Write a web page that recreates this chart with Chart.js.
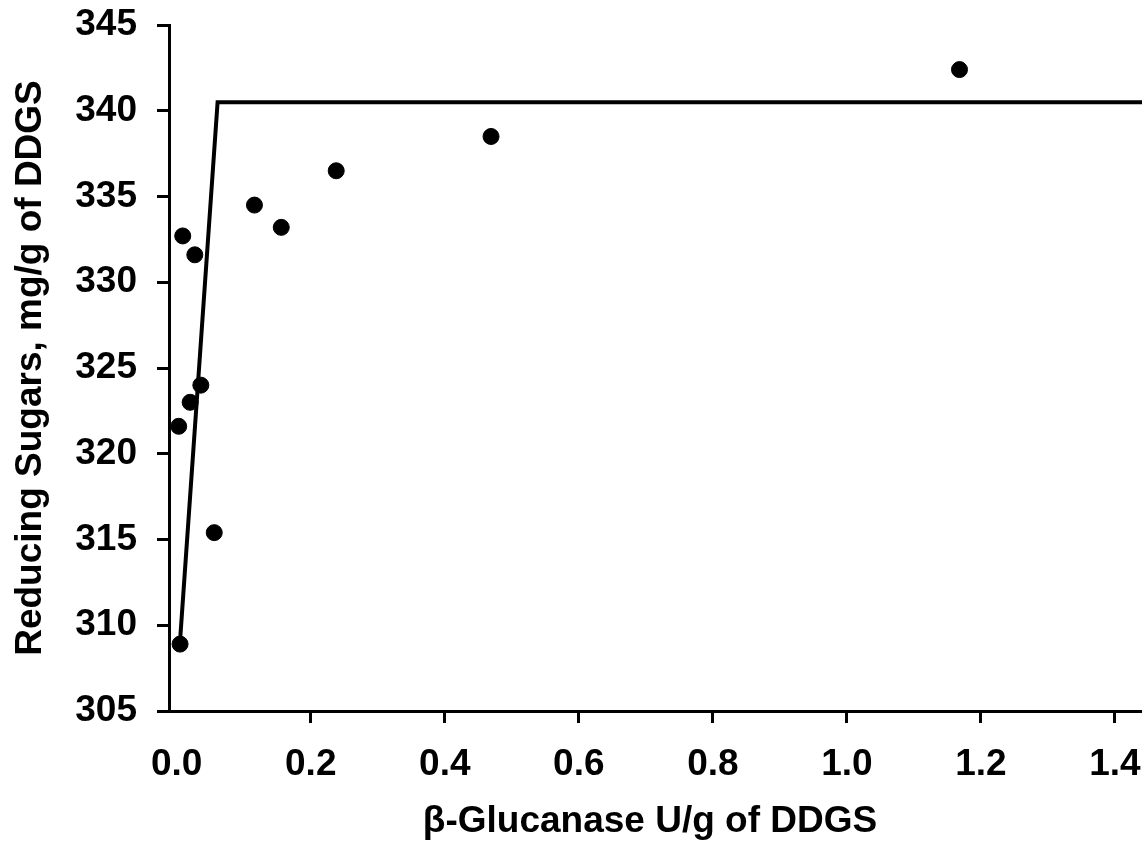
<!DOCTYPE html>
<html>
<head>
<meta charset="utf-8">
<script src="https://cdn.jsdelivr.net/npm/chart.js@4.4.1/dist/chart.umd.min.js"></script>
<style>
  html, body { margin: 0; padding: 0; background: #fff; overflow: hidden; }
  #wrap { width: 1142px; height: 856px; overflow: hidden; }
</style>
</head>
<body>
<div id="wrap"><canvas id="chart" width="1300" height="856"></canvas></div>
<script>
// measured points (enzyme dose vs reducing sugars)
const doseU = [0.003, 0.005, 0.009, 0.020, 0.027, 0.036, 0.056, 0.116, 0.156, 0.238, 0.469, 1.168];
const sugars = [321.6, 308.9, 332.7, 323.0, 331.6, 324.0, 315.4, 334.5, 333.2, 336.5, 338.5, 342.4];

// fitted broken-line model
const fitX = [0.005, 0.061, 1.6];
const fitY = [309.1, 340.5, 340.5];

const xTicks = [0, 0.2, 0.4, 0.6, 0.8, 1.0, 1.2, 1.4];
const yTicks = [305, 310, 315, 320, 325, 330, 335, 340, 345];

const xTitle = 'β-Glucanase U/g of DDGS';
const yTitle = 'Reducing Sugars, mg/g of DDGS';

const FONT = { family: '"Liberation Sans", Arial, sans-serif', size: 37, weight: 'bold' };

// x title sits left of the plot centre in the original, so draw it by hand
const xTitlePlugin = {
  id: 'xTitle',
  afterDraw(chart) {
    const c = chart.ctx;
    c.save();
    c.font = `bold ${FONT.size}px ${FONT.family}`;
    c.fillStyle = '#000';
    c.textAlign = 'center';
    c.textBaseline = 'alphabetic';
    c.fillText(xTitle, 650, 832);
    c.restore();
  }
};

const ctx = document.getElementById('chart').getContext('2d');
new Chart(ctx, {
  data: {
    datasets: [
      {
        type: 'scatter',
        data: doseU.map((x, i) => ({ x, y: sugars[i] })),
        backgroundColor: '#000',
        borderColor: '#000',
        pointRadius: 8,
        pointHoverRadius: 8
      },
      {
        type: 'line',
        data: fitX.map((x, i) => ({ x, y: fitY[i] })),
        borderColor: '#000',
        borderWidth: 4,
        pointRadius: 0,
        fill: false,
        tension: 0
      }
    ]
  },
  options: {
    responsive: false,
    devicePixelRatio: 1,
    animation: false,
    events: [],
    layout: { padding: { left: 0, top: 25, right: 118, bottom: 0 } },
    plugins: { legend: { display: false }, tooltip: { enabled: false } },
    scales: {
      x: {
        type: 'linear',
        min: -0.0115,
        max: 1.5,
        afterBuildTicks: (s) => { s.ticks = xTicks.map(v => ({ value: v })); },
        afterFit: (s) => { s.height = 145; s.paddingLeft = 0; s.paddingRight = 0; },
        border: { color: '#000', width: 3 },
        grid: {
          drawOnChartArea: false,
          tickLength: 12,
          tickWidth: 3,
          color: (c) => (c.tick && c.tick.value === 0 ? 'rgba(0,0,0,0)' : '#000')
        },
        ticks: {
          color: '#000',
          font: FONT,
          padding: 20,
          maxRotation: 0,
          callback: (v) => Number(v).toFixed(1)
        }
      },
      y: {
        type: 'linear',
        min: 305,
        max: 345,
        afterBuildTicks: (s) => { s.ticks = yTicks.map(v => ({ value: v })); },
        afterFit: (s) => { s.width = 169; s.paddingTop = 0; s.paddingBottom = 0; },
        border: { color: '#000', width: 3 },
        grid: { drawOnChartArea: false, tickLength: 12, tickWidth: 3, color: '#000' },
        ticks: { color: '#000', font: FONT, padding: 20 },
        title: {
          display: true,
          text: yTitle,
          color: '#000',
          font: FONT,
          padding: { top: 9, bottom: 0 }
        }
      }
    }
  },
  plugins: [xTitlePlugin]
});
</script>
</body>
</html>
